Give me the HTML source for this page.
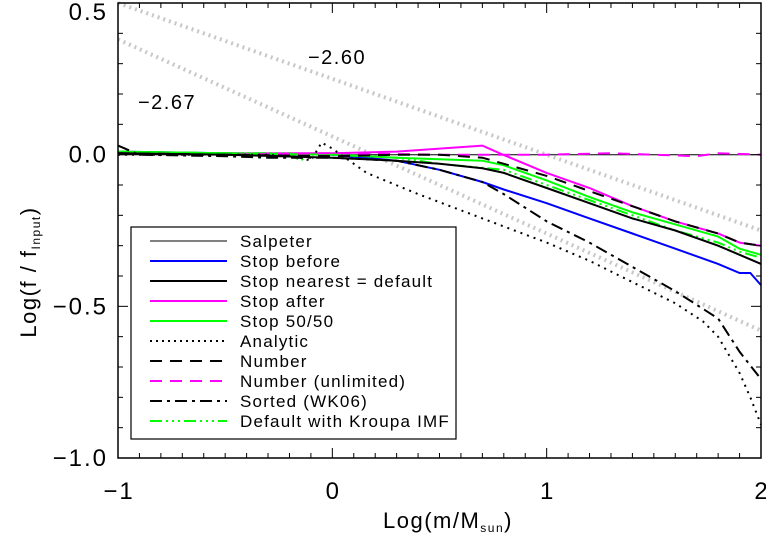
<!DOCTYPE html>
<html><head><meta charset="utf-8"><style>
body{margin:0;background:#fff;}
svg{display:block;font-family:"Liberation Sans",sans-serif;}
</style></head><body>
<svg id="chart" width="766" height="537" viewBox="0 0 766 537">
<g id="series"></g>
<g id="axes"></g>
<text x="308" y="64" font-size="20" letter-spacing="1.5">−2.60</text>
<text x="138" y="109" font-size="20" letter-spacing="1.5">−2.67</text>
<g id="legend"></g>
<text x="448" y="528" font-size="22" letter-spacing="1.5" text-anchor="middle">Log(m/M<tspan font-size="12" dy="4">sun</tspan><tspan dy="-4">)</tspan></text>
<text transform="translate(36,272) rotate(-90)" font-size="22" letter-spacing="1.5" text-anchor="middle">Log(f / f<tspan font-size="12" dy="4">Input</tspan><tspan dy="-4">)</tspan></text>
</svg>
<script>
const xTicks=[-1,0,1,2];
const xTickLabels=["−1","0","1","2"];
const yTicks=[0.5,0,-0.5,-1.0];
const yTickLabels=["0.5","0.0","−0.5","−1.0"];
const refX=[-1,2];
const ref260=[0.5,-0.25];
const ref267=[0.38,-0.58];
const salpX=[-1,2];
const salpY=[0,0];
const beforeX=[-1,-0.5,0,0.3,0.5,0.7,0.8,1.0,1.2,1.4,1.6,1.8,1.9,1.95,2.0];
const beforeY=[0.01,0.005,0,-0.02,-0.05,-0.09,-0.115,-0.16,-0.21,-0.26,-0.31,-0.36,-0.39,-0.39,-0.43];
const nearestX=[-1,-0.5,0,0.3,0.5,0.7,0.8,1.0,1.2,1.4,1.6,1.8,1.9,2.0];
const nearestY=[0.005,0,-0.01,-0.02,-0.03,-0.045,-0.06,-0.11,-0.16,-0.21,-0.25,-0.30,-0.33,-0.36];
const afterX=[-1,-0.5,0,0.3,0.5,0.7,0.78,1.0,1.2,1.4,1.6,1.8,1.9,2.0];
const afterY=[0.005,0.005,0.005,0.01,0.02,0.03,0.005,-0.06,-0.11,-0.17,-0.22,-0.26,-0.29,-0.30];
const fiftyX=[-1,-0.5,0,0.3,0.5,0.7,0.8,1.0,1.2,1.4,1.6,1.8,1.9,2.0];
const fiftyY=[0.01,0.005,0,-0.01,-0.015,-0.02,-0.035,-0.085,-0.14,-0.19,-0.23,-0.27,-0.31,-0.33];
const analyticX=[-1,-0.3,-0.15,-0.1,-0.05,0,0.16,0.4,0.7,1.0,1.2,1.4,1.6,1.73,1.8,1.9,1.95,2.0];
const analyticY=[0,0,-0.01,-0.02,0.04,0.02,-0.06,-0.13,-0.21,-0.29,-0.35,-0.42,-0.49,-0.55,-0.60,-0.72,-0.80,-0.89];
const numberX=[-1,-0.5,0,0.3,0.5,0.7,0.8,1.0,1.2,1.4,1.6,1.8,1.9,2.0];
const numberY=[0.005,0,-0.005,0,0,-0.01,-0.03,-0.07,-0.12,-0.17,-0.22,-0.26,-0.29,-0.30];
const unlimX=[-1,-0.5,0,0.5,1.0,1.3,1.5,1.7,1.8,2.0];
const unlimY=[0.005,0,0.005,0.0,0.0,0.005,0.0,-0.005,0.005,0.0];
const sortedX=[-1,-0.9,-0.5,-0.3,0,0.3,0.5,0.7,0.8,1.0,1.2,1.4,1.6,1.8,1.9,2.0];
const sortedY=[0.03,0.0,-0.005,-0.01,-0.01,-0.02,-0.05,-0.09,-0.13,-0.22,-0.29,-0.37,-0.45,-0.54,-0.65,-0.74];
const kroupaX=[-1,-0.5,-0.2,-0.15,-0.1,0,0.3,0.5,0.8,1.0,1.2,1.4,1.6,1.8,1.9,2.0];
const kroupaY=[0.01,0.005,0.005,-0.02,0,0,-0.01,-0.03,-0.05,-0.10,-0.15,-0.20,-0.25,-0.29,-0.32,-0.34];

const X0=118,X1=761,Y0=3,Y1=458;
const sx=v=>X0+(v+1)/3*(X1-X0);
const sy=v=>Y0+(0.5-v)/1.5*(Y1-Y0);
const NS="http://www.w3.org/2000/svg";
function mk(tag,attrs,parent){const e=document.createElementNS(NS,tag);for(const k in attrs)e.setAttribute(k,attrs[k]);parent.appendChild(e);return e;}
function pts(xs,ys){return xs.map((x,i)=>sx(x).toFixed(1)+","+sy(ys[i]).toFixed(1)).join(" ");}

const S=document.getElementById("series");
const defs=[
 {n:"ref-line-260",x:refX,y:ref260,c:"#c8c8c8",w:4,d:"2 4"},
 {n:"ref-line-267",x:refX,y:ref267,c:"#c8c8c8",w:4,d:"2 4"},
 {n:"salpeter-line",x:salpX,y:salpY,c:"#000",w:1,d:""},
 {n:"stop-before-line",x:beforeX,y:beforeY,c:"#0000ff",w:2,d:""},
 {n:"stop-after-line",x:afterX,y:afterY,c:"#ff00ff",w:2,d:""},
 {n:"stop-5050-line",x:fiftyX,y:fiftyY,c:"#00ff00",w:2,d:""},
 {n:"kroupa-line",x:kroupaX,y:kroupaY,c:"#00ff00",w:2,d:"12 4 2 4 2 4 2 4"},
 {n:"number-unlimited-line",x:unlimX,y:unlimY,c:"#ff00ff",w:2,d:"12 8"},
 {n:"stop-nearest-line",x:nearestX,y:nearestY,c:"#000",w:2,d:""},
 {n:"number-line",x:numberX,y:numberY,c:"#000",w:2,d:"12 8"},
 {n:"analytic-line",x:analyticX,y:analyticY,c:"#000",w:2,d:"2 5"},
 {n:"sorted-line",x:sortedX,y:sortedY,c:"#000",w:2,d:"12 5 3 5"}
];
defs.forEach(s=>{
 const p=mk("polyline",{points:pts(s.x,s.y),fill:"none",stroke:s.c,"stroke-width":s.w,"stroke-dasharray":s.d},S);
 
 
});

const A=document.getElementById("axes");
const fr=mk("rect",{x:X0,y:Y0,width:X1-X0,height:Y1-Y0,fill:"none",stroke:"#000","stroke-width":1.5},A);


for(let i=0;i<=30;i++){const v=-1+i*0.1;const L=(i%10===0)?10:5;const x=sx(v);
 mk("line",{x1:x,y1:Y1,x2:x,y2:Y1-L,stroke:"#000","stroke-width":1},A);
 mk("line",{x1:x,y1:Y0,x2:x,y2:Y0+L,stroke:"#000","stroke-width":1},A);}
for(let i=0;i<=15;i++){const v=0.5-i*0.1;const L=(i%5===0)?10:5;const y=sy(v);
 mk("line",{x1:X0,y1:y,x2:X0+L,y2:y,stroke:"#000","stroke-width":1},A);
 mk("line",{x1:X1,y1:y,x2:X1-L,y2:y,stroke:"#000","stroke-width":1},A);}
xTicks.forEach((v,i)=>{const t=mk("text",{x:sx(v)+1,y:499,"font-size":24,"letter-spacing":2,"text-anchor":"middle"},A);t.textContent=xTickLabels[i];
 
 });
yTicks.forEach((v,i)=>{const t=mk("text",{x:108,y:Math.max(sy(v)+8,20),"font-size":24,"letter-spacing":2,"text-anchor":"end"},A);t.textContent=yTickLabels[i];
 
 });

const G=document.getElementById("legend");
const lb=mk("rect",{x:131,y:227,width:325,height:212,fill:"#fff",stroke:"#000","stroke-width":1.2},G);


const legendNames=["Salpeter","Stop before","Stop nearest = default","Stop after","Stop 50/50","Analytic","Number","Number (unlimited)","Sorted (WK06)","Default with Kroupa IMF"];
const legendStyle=[["#000",1,""],["#0000ff",2,""],["#000",2,""],["#ff00ff",2,""],["#00ff00",2,""],["#000",2,"2 4"],["#000",2,"12 8"],["#ff00ff",2,"12 8"],["#000",2,"12 5 3 5"],["#00ff00",2,"12 4 2 4 2 4 2 4"]];
legendNames.forEach((n,i)=>{const y=241+i*20;const st=legendStyle[i];
 const ln=mk("line",{x1:150,y1:y,x2:227,y2:y,stroke:st[0],"stroke-width":st[1],"stroke-dasharray":st[2]},G);
 
 
 const t=mk("text",{x:240,y:y+6,"font-size":17,"letter-spacing":1.2},G);t.textContent=n;
 
 });
</script>
</body></html>
